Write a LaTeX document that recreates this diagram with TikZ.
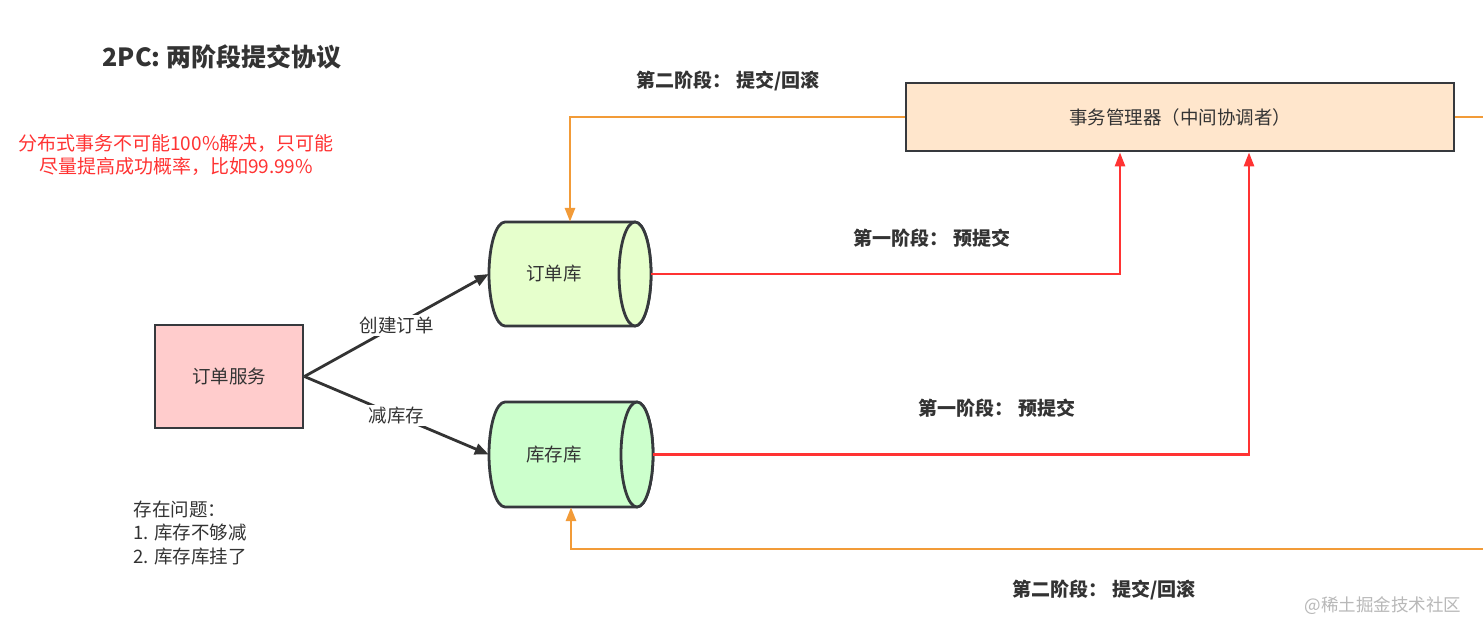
\documentclass[tikz,border=0pt]{standalone}
\usepackage{fontspec}
\setmainfont{Noto Sans CJK SC}
\usetikzlibrary{arrows.meta}
\definecolor{txt}{HTML}{333333}
\definecolor{bord}{HTML}{36393D}
\definecolor{redl}{HTML}{FF3333}
\definecolor{orl}{HTML}{F29B38}
\definecolor{mgrfill}{HTML}{FFE6CC}
\definecolor{svcfill}{HTML}{FFCCCC}
\definecolor{dbafill}{HTML}{E6FFCC}
\definecolor{dbbfill}{HTML}{CCFFCC}
\definecolor{wm}{HTML}{B8B8B8}
\begin{document}
\begin{tikzpicture}[x=1pt,y=-1pt,
  every node/.style={text=txt, font=\fontsize{18.5}{22}\selectfont},
  boxnode/.style={draw=bord, line width=2.8pt, inner sep=0pt},
  ghost/.style={inner sep=0pt},
  blkarrow/.style={draw=txt, line width=2.8pt, -{Triangle[length=14pt,width=11pt]}},
  redarrow/.style={draw=redl, line width=2.6pt, -{Triangle[length=14pt,width=10pt]}},
  orarrow/.style={draw=orl, line width=2.8pt, -{Triangle[length=14pt,width=10pt]}},
  orline/.style={draw=orl, line width=2.8pt},
  boldlbl/.style={font=\fontsize{19}{22}\selectfont\bfseries},
  edgelbl/.style={fill=white, inner sep=2pt}
]
\useasboundingbox (0,0) rectangle (1483,635);
\fill[white] (0,0) rectangle (1483,635);

% title and notes
\node[font=\fontsize{25}{29}\selectfont\bfseries] (title) at (222,57) {2PC: 两阶段提交协议};
\node[text=redl, align=center, font=\fontsize{19}{23.5}\selectfont] (note) at (176,155) {分布式事务不可能100\%解决，只可能\\尽量提高成功概率，比如99.99\%};
\node[align=left, anchor=north west, font=\fontsize{18.5}{23.5}\selectfont] (issues) at (130,497) {存在问题：\\1. 库存不够减\\2. 库存库挂了};

% manager
\node[boxnode, fill=mgrfill, minimum width=548pt, minimum height=68pt] (mgr) at (1180,117) {事务管理器（中间协调者）};

% service
\node[boxnode, fill=svcfill, minimum width=148pt, minimum height=103pt] (svc) at (229,376.5) {订单服务};

% cylinder 1
\filldraw[fill=dbafill, draw=bord, line width=2.8pt]
  (505,222) -- (635,222) .. controls (643.84,222) and (651,245.28) .. (651,274)
  .. controls (651,302.72) and (643.84,326) .. (635,326) -- (505,326)
  .. controls (496.16,326) and (489,302.72) .. (489,274)
  .. controls (489,245.28) and (496.16,222) .. (505,222) -- cycle;
\filldraw[fill=dbafill, draw=bord, line width=2.8pt] (635,274) ellipse [x radius=16, y radius=52];
\node[ghost, minimum width=162pt, minimum height=104pt] (db1) at (570,274) {};
\node (db1text) at (554,274) {订单库};

% cylinder 2
\filldraw[fill=dbbfill, draw=bord, line width=2.8pt]
  (505,402) -- (637,402) .. controls (645.84,402) and (653,425.5) .. (653,454.5)
  .. controls (653,483.5) and (645.84,507) .. (637,507) -- (505,507)
  .. controls (496.16,507) and (489,483.5) .. (489,454.5)
  .. controls (489,425.5) and (496.16,402) .. (505,402) -- cycle;
\filldraw[fill=dbbfill, draw=bord, line width=2.8pt] (637,454.5) ellipse [x radius=16, y radius=52.5];
\node[ghost, minimum width=164pt, minimum height=105pt] (db2) at (571,454.5) {};
\node (db2text) at (554,454.5) {库存库};

% service arrows
\draw[blkarrow] (svc.east) -- node[edgelbl, pos=0.5] (lbl1) {创建订单} (db1.west);
\draw[blkarrow] (svc.east) -- node[edgelbl, pos=0.5] (lbl2) {减库存} (db2.west);

% phase one (red)
\draw[redarrow] (db1.east) -| ([xshift=-60pt]mgr.south);
\draw[redarrow] (db2.east) -| ([xshift=69pt]mgr.south);

% phase two (orange)
\coordinate (rtop) at (1490,117);
\coordinate (rbot) at (1490,549);
\draw[orarrow] (mgr.west) -| (db1.north);
\draw[orline] (mgr.east) -- (rtop);
\draw[orarrow] (rbot) -| (db2.south);

% phase labels
\node[boldlbl] (p2a) at (728,81) {第二阶段：\ 提交/回滚};
\node[boldlbl] (p1a) at (932,238) {第一阶段：\ 预提交};
\node[boldlbl] (p1b) at (997,408) {第一阶段：\ 预提交};
\node[boldlbl] (p2b) at (1104,590) {第二阶段：\ 提交/回滚};

% watermark
\node[text=wm, font=\fontsize{17.5}{20}\selectfont] (wmark) at (1383,606) {@稀土掘金技术社区};
\end{tikzpicture}
\end{document}
